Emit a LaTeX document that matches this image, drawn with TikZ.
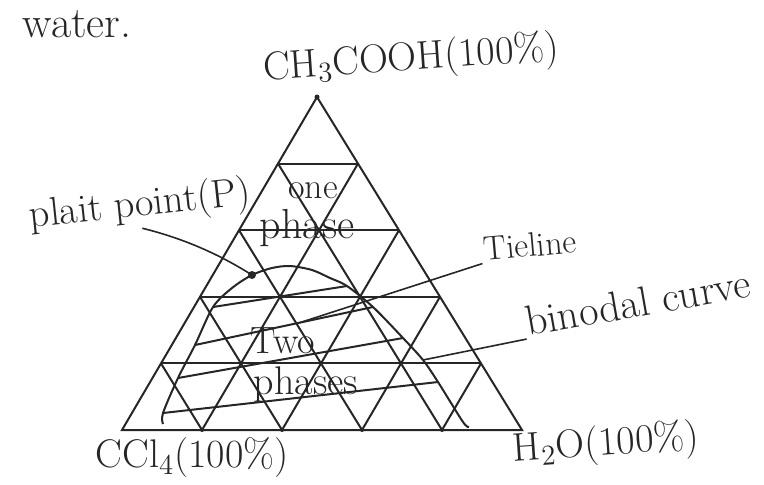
\documentclass[tikz,border=0pt]{standalone}
\usetikzlibrary{calc}
\definecolor{pen}{HTML}{262626}
\tikzset{
  hand/.style={font=\fontsize{20}{24}\selectfont, text=pen, inner sep=1pt},
  gridline/.style={draw=pen, line width=1pt},
  tie/.style={draw=pen, line width=1pt},
  leader/.style={draw=pen, line width=0.8pt},
}

\begin{document}
\begin{tikzpicture}[x=0.5pt, y=-0.5pt, pen]
  \useasboundingbox (0,0) rectangle (764,484);
  % triangle and grid
  \coordinate (A) at (317,97);
  \coordinate (B) at (122,430);
  \coordinate (C) at (522,430);
  \draw[gridline] (A) -- (B) -- (C) -- cycle;
  \foreach \i in {1,...,4}{
    \draw[gridline] ($(B)!\i/5!(A)$) -- ($(C)!\i/5!(A)$);
    \draw[gridline] ($(B)!\i/5!(A)$) -- ($(B)!\i/5!(C)$);
    \draw[gridline] ($(C)!\i/5!(A)$) -- ($(C)!\i/5!(B)$);
    \fill ($(B)!\i/5!(C)$) circle (2);
  }
  \fill (A) circle (2.5);
  % binodal curve
  \coordinate (L4) at (163,413); \coordinate (R4) at (438,382);
  \coordinate (L3) at (178,378); \coordinate (R3) at (403,338);
  \coordinate (L2) at (195,345); \coordinate (R2) at (373,307);
  \coordinate (L1) at (213,307); \coordinate (R1) at (347,286);
  \coordinate (P) at (252,275);
  \coordinate (K) at (423,360);
  \draw[line width=1pt] plot[smooth, tension=0.5] coordinates {(163,424) (L4) (L3) (L2) (L1) (232,288) (P) (272,268) (290,266) (312,270) (330,278) (R1) (R2) (R3) (K) (R4) (463,422) (469,427)};
  \fill (P) circle (4);
  % tie lines
  \draw[tie] (L1) -- (R1);
  \draw[tie] (L2) -- (R2);
  \draw[tie] (L3) -- (R3);
  \draw[tie] (L4) -- (R4);
  \coordinate (T2) at ($(L2)!0.59!(R2)$);
  % labels
  \node[hand, font=\fontsize{22}{26}\selectfont] (water) at (77,24) {water.};
  \node[hand, rotate=4] (acid) at (411,60) {CH$_3$COOH(100\%)};
  \node[hand, rotate=6] (plait) at (140,206) {plait point(P)};
  \node[hand, font=\fontsize{18}{22}\selectfont] (one) at (313,191) {one};
  \node[hand, font=\fontsize{21}{25}\selectfont] (phase) at (307,228) {phase};
  \node[hand, rotate=5, font=\fontsize{17}{20}\selectfont] (tieline) at (530,245) {Tieline};
  \node[hand, rotate=10, font=\fontsize{21}{24}\selectfont] (binodal) at (638,302) {binodal curve};
  \node[hand, font=\fontsize{19}{22}\selectfont] (two) at (283,341) {Two};
  \node[hand] (phases) at (306,385) {phases};
  \node[hand] (ccl) at (192,458) {CCl$_4$(100\%)};
  \node[hand, rotate=4] (htwoo) at (606,445) {H$_2$O(100\%)};
  % leaders
  \draw[leader] (plait.south) .. controls (190,240) and (225,258) .. (P);
  \draw[leader] (tieline.south west) -- (T2);
  \draw[leader] (binodal.south west) -- (K);
\end{tikzpicture}
\end{document}
